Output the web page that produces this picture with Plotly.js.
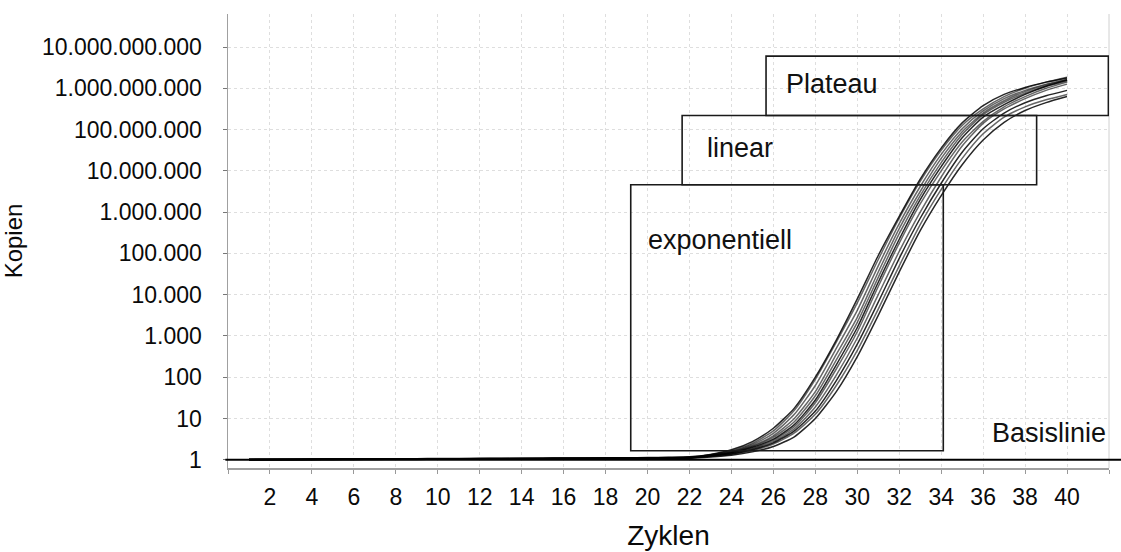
<!DOCTYPE html>
<html>
<head>
<meta charset="utf-8">
<script src="https://cdn.plot.ly/plotly-3.0.1.min.js"></script>
<style>
html,body{margin:0;padding:0;background:#fff;}
#chart{width:1121px;height:552px;}
</style>
</head>
<body>
<div id="chart"></div>
<script>
// Cycles 1..40
const cycles = [1,2,3,4,5,6,7,8,9,10,11,12,13,14,15,16,17,18,19,20,21,22,23,24,25,26,27,28,29,30,31,32,33,34,35,36,37,38,39,40];

// Copy numbers per run
const runA = [1.01,1.01,1.02,1.02,1.03,1.03,1.03,1.04,1.04,1.04,1.05,1.05,1.06,1.06,1.06,1.07,1.07,1.08,1.08,1.09,1.10,1.12,1.26,1.48,2.0,3.16,7.1,28,200,1.6e3,2.0e4,2.2e5,2.0e6,1.26e7,6.3e7,2.0e8,4.0e8,7.1e8,1.12e9,1.58e9];
const runB = [1.02,1.02,1.03,1.03,1.04,1.04,1.05,1.05,1.05,1.06,1.06,1.07,1.07,1.08,1.08,1.09,1.09,1.10,1.10,1.11,1.13,1.16,1.32,1.66,2.51,5.0,15.8,89,708,6.3e3,7.1e4,7.1e5,5.6e6,3.16e7,1.26e8,3.16e8,6.3e8,1.0e9,1.41e9,1.86e9];
const runC = [1.00,1.00,1.01,1.01,1.02,1.02,1.02,1.03,1.03,1.03,1.04,1.04,1.04,1.05,1.05,1.05,1.06,1.06,1.07,1.07,1.08,1.10,1.2,1.35,1.66,2.4,4.47,12.6,63,447,4.47e3,5.0e4,5.0e5,3.55e6,2.0e7,7.9e7,2.0e8,3.55e8,5.25e8,7.1e8];
const runD = [1.02,1.03,1.03,1.04,1.04,1.05,1.05,1.06,1.06,1.07,1.07,1.08,1.08,1.09,1.09,1.10,1.10,1.11,1.12,1.13,1.15,1.18,1.35,1.74,2.75,5.8,17.8,100,794,7.9e3,8.9e4,7.9e5,6.3e6,3.55e7,1.45e8,3.8e8,7.1e8,1.05e9,1.41e9,1.78e9];
const runE = [1.01,1.01,1.01,1.02,1.02,1.03,1.03,1.03,1.04,1.04,1.04,1.05,1.05,1.06,1.06,1.06,1.07,1.07,1.08,1.08,1.09,1.11,1.23,1.41,1.82,2.75,5.6,19,112,891,1.0e4,1.12e5,1.0e6,7.1e6,4.0e7,1.41e8,3.16e8,5.6e8,8.9e8,1.26e9];
const runF = [1.01,1.02,1.02,1.03,1.03,1.04,1.04,1.04,1.05,1.05,1.06,1.06,1.06,1.07,1.07,1.08,1.08,1.09,1.09,1.10,1.11,1.14,1.29,1.55,2.19,3.8,10,44.7,355,2.82e3,3.55e4,4.0e5,3.16e6,2.0e7,8.9e7,2.51e8,5.0e8,8.3e8,1.2e9,1.58e9];
const runG = [1.00,1.00,1.00,1.01,1.01,1.01,1.02,1.02,1.02,1.03,1.03,1.03,1.04,1.04,1.04,1.05,1.05,1.05,1.06,1.06,1.07,1.09,1.17,1.29,1.55,2.1,3.6,10,44.7,316,3.16e3,3.55e4,3.55e5,2.51e6,1.41e7,5.6e7,1.5e8,2.9e8,4.5e8,6.3e8];
const runH = [1.01,1.01,1.02,1.02,1.02,1.03,1.03,1.04,1.04,1.04,1.05,1.05,1.05,1.06,1.06,1.07,1.07,1.07,1.08,1.09,1.10,1.12,1.26,1.45,1.9,3.0,6.3,24,158,1.26e3,1.58e4,1.78e5,1.58e6,1.0e7,5.0e7,1.58e8,3.55e8,6.3e8,1.0e9,1.41e9];
const runI = [1.02,1.02,1.02,1.03,1.03,1.04,1.04,1.05,1.05,1.05,1.06,1.06,1.07,1.07,1.08,1.08,1.09,1.09,1.10,1.11,1.12,1.15,1.32,1.58,2.34,4.37,12.6,63,501,4.17e3,5.0e4,5.25e5,4.17e6,2.51e7,1.05e8,2.82e8,5.6e8,8.9e8,1.26e9,1.66e9];
const runJ = [1.00,1.01,1.01,1.01,1.02,1.02,1.03,1.03,1.03,1.04,1.04,1.04,1.05,1.05,1.05,1.06,1.06,1.07,1.07,1.08,1.09,1.10,1.23,1.38,1.74,2.57,5.0,15.1,83,631,6.6e3,7.6e4,7.1e5,5.0e6,2.82e7,1.05e8,2.51e8,4.47e8,6.6e8,8.9e8];
const runK = [1.01,1.01,1.02,1.02,1.03,1.03,1.04,1.04,1.04,1.05,1.05,1.06,1.06,1.06,1.07,1.07,1.08,1.08,1.09,1.10,1.11,1.13,1.26,1.51,2.09,3.47,8.3,35.5,263,2.14e3,2.63e4,3.0e5,2.51e6,1.58e7,7.6e7,2.29e8,4.57e8,7.6e8,1.12e9,1.51e9];

const runs = [runA, runB, runC, runD, runE, runF, runG, runH, runI, runJ, runK];

// Axis ticks
const xTickVals = [0,2,4,6,8,10,12,14,16,18,20,22,24,26,28,30,32,34,36,38,40,42];
const xTickText = ['','2','4','6','8','10','12','14','16','18','20','22','24','26','28','30','32','34','36','38','40',''];
const yTickVals = [1,10,100,1e3,1e4,1e5,1e6,1e7,1e8,1e9,1e10];
const yTickText = ['1','10','100','1.000','10.000','100.000','1.000.000','10.000.000','100.000.000','1.000.000.000','10.000.000.000'];

// Phase boxes: label, cycle start, cycle end, copies low, copies high, label position
const phaseNames  = ['exponentiell','linear','Plateau'];
const phaseX0     = [19.2, 21.65, 25.65];
const phaseX1     = [34.1, 38.55, 41.97];
const phaseYLow   = [1.65, 4.6e6, 2.2e8];
const phaseYHigh  = [4.6e6, 2.2e8, 6.0e9];
const phaseLabelX = [19.95, 22.75, 26.5];
const phaseLabelY = [2.1e5, 3.5e7, 1.25e9];

const baselineValue = 1;
const baselineLabel = 'Basislinie';
const baselineLabelX = 36.35;
const baselineLabelY = 4.5;

const FONT = '"Liberation Sans", Arial, sans-serif';

const traces = runs.map((r, i) => ({
  x: cycles,
  y: r,
  type: 'scatter',
  mode: 'lines',
  line: {color: (i % 3 === 0) ? 'rgba(0,0,0,0.85)' : 'rgba(0,0,0,0.6)', width: 1.5, shape: 'spline', smoothing: 0.6},
  hoverinfo: 'skip',
  showlegend: false
}));

const shapes = [];
const annotations = [];
// faint right border of the plot area
shapes.push({
  type: 'line', xref: 'paper', yref: 'paper', x0: 1, x1: 1, y0: 0, y1: 1,
  line: {color: '#d0d0d0', width: 1}, layer: 'below'
});
phaseNames.forEach((name, i) => {
  shapes.push({
    type: 'rect', xref: 'x', yref: 'y',
    x0: phaseX0[i], x1: phaseX1[i], y0: phaseYLow[i], y1: phaseYHigh[i],
    line: {color: '#1a1a1a', width: 1.6},
    fillcolor: 'rgba(0,0,0,0)',
    layer: 'above'
  });
  annotations.push({
    x: phaseLabelX[i], y: Math.log10(phaseLabelY[i]), xref: 'x', yref: 'y',
    text: name, showarrow: false, xanchor: 'left', yanchor: 'middle',
    font: {family: FONT, size: 27, color: '#111'}
  });
});
shapes.push({
  type: 'line', xref: 'paper', yref: 'y',
  x0: -0.003, x1: 1.02, y0: baselineValue, y1: baselineValue,
  line: {color: '#000', width: 2}, layer: 'above'
});
annotations.push({
  x: baselineLabelX, y: Math.log10(baselineLabelY), xref: 'x', yref: 'y',
  text: baselineLabel, showarrow: false, xanchor: 'left', yanchor: 'middle',
  font: {family: FONT, size: 27, color: '#111'}
});

const layout = {
  width: 1121, height: 552,
  margin: {l: 228, r: 12, t: 14, b: 84},
  paper_bgcolor: '#fff', plot_bgcolor: '#fff',
  font: {family: FONT, color: '#111'},
  showlegend: false,
  xaxis: {
    range: [0, 42], tickmode: 'array', tickvals: xTickVals, ticktext: xTickText,
    showgrid: true, gridcolor: '#dedede', griddash: 'dot', gridwidth: 1,
    showline: true, linecolor: '#a0a0a0', linewidth: 1.5,
    ticks: 'outside', ticklen: 4, tickcolor: '#999', tickwidth: 1,
    tickfont: {family: FONT, size: 23, color: '#0a0a0a'},
    ticklabelstandoff: 4,
    zeroline: false,
    title: {text: 'Zyklen', font: {family: FONT, size: 28, color: '#0a0a0a'}, standoff: 16}
  },
  yaxis: {
    type: 'log', range: [-0.2, 10.8], tickmode: 'array', tickvals: yTickVals, ticktext: yTickText,
    showgrid: true, gridcolor: '#dedede', griddash: 'dot', gridwidth: 1,
    showline: true, linecolor: '#a0a0a0', linewidth: 1.5,
    ticks: 'outside', ticklen: 4, tickcolor: '#777', tickwidth: 1,
    tickfont: {family: FONT, size: 23, color: '#0a0a0a'},
    ticklabelstandoff: 16,
    zeroline: false,
    title: {text: 'Kopien', font: {family: FONT, size: 24, color: '#0a0a0a'}, standoff: 16}
  },
  shapes: shapes,
  annotations: annotations
};

Plotly.newPlot('chart', traces, layout, {displayModeBar: false, staticPlot: true});
</script>
</body>
</html>
